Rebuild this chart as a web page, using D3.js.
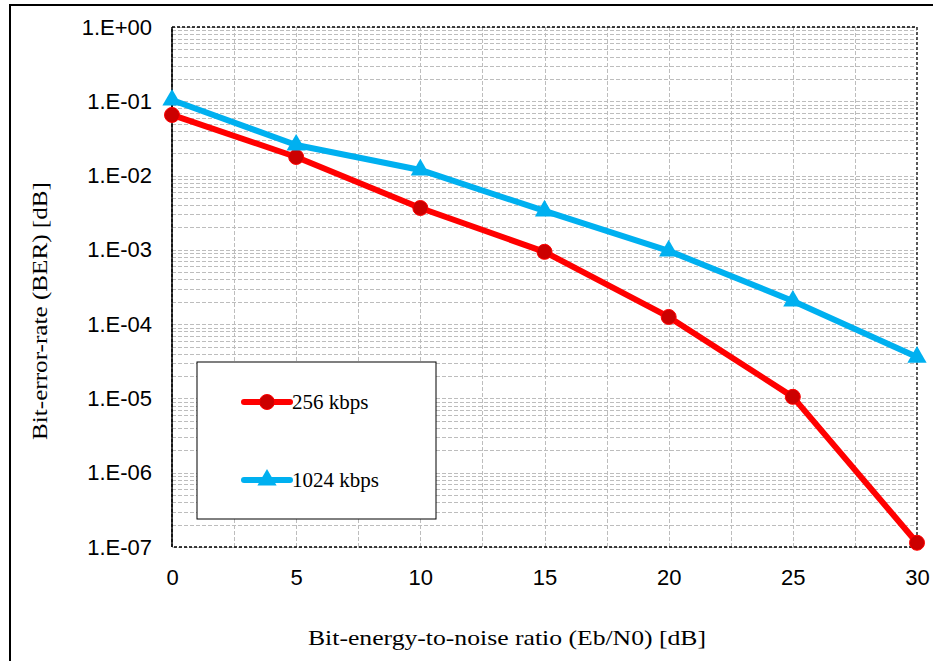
<!DOCTYPE html>
<html><head><meta charset="utf-8">
<script src="https://cdn.jsdelivr.net/npm/d3@7"></script>
<style>body{margin:0;background:#fff}svg{display:block}</style>
</head><body><svg id="c" width="933" height="661"></svg>
<script>
const xValues = [0, 5, 10, 15, 20, 25, 30];
const ber256 = [0.0655, 0.0178, 0.00366, 0.00094, 0.000125, 0.0000105, 0.000000114];
const ber1024 = [0.104, 0.0258, 0.0119, 0.00334, 0.00097, 0.000205, 0.000036];
const seriesNames = ["256 kbps", "1024 kbps"];
const xTicks = [0, 5, 10, 15, 20, 25, 30];
const yTicks = [1, 1e-1, 1e-2, 1e-3, 1e-4, 1e-5, 1e-6, 1e-7];
const yTickLabels = ["1.E+00","1.E-01","1.E-02","1.E-03","1.E-04","1.E-05","1.E-06","1.E-07"];

const svg = d3.select("#c");
const L = 172, R = 917, T = 27, B = 547;
const x = d3.scaleLinear().domain([0, 30]).range([L, R]);
const y = d3.scaleLog().domain([1e-7, 1]).range([B, T]);

// outer frame
svg.append("rect").attr("x", 10).attr("y", 5).attr("width", 940).attr("height", 680)
  .attr("fill", "none").attr("stroke", "#000").attr("stroke-width", 2);

// grid
const grid = svg.append("g").attr("stroke", "#bdbdbd").attr("stroke-width", 1).attr("stroke-dasharray", "4,2");
const minorY = [];
for (let e = -7; e < 0; e++) for (let m = 1; m <= 9; m++) minorY.push(m * Math.pow(10, e));
minorY.push(1);
grid.selectAll("line.h").data(minorY).join("line")
  .attr("x1", L).attr("x2", R).attr("y1", d => Math.round(y(d)) + 0.5).attr("y2", d => Math.round(y(d)) + 0.5);
const gridX = d3.range(2.5, 30, 2.5);
grid.selectAll("line.v").data(gridX).join("line")
  .attr("y1", T).attr("y2", B).attr("x1", d => Math.round(x(d)) + 0.5).attr("x2", d => Math.round(x(d)) + 0.5);

// plot border
svg.append("rect").attr("x", L).attr("y", T).attr("width", R - L).attr("height", B - T)
  .attr("fill", "none").attr("stroke", "#000").attr("stroke-width", 1.3).attr("stroke-dasharray", "3,2");
svg.append("line").attr("x1", L).attr("x2", L).attr("y1", T).attr("y2", B).attr("stroke", "#000").attr("stroke-width", 1.5);

// axes (labels only)
const yAxis = d3.axisLeft(y).tickValues(yTicks).tickFormat((d, i) => yTickLabels[i]).tickSize(0).tickPadding(20);
const ga = svg.append("g").attr("transform", `translate(${L},0)`).call(yAxis);
ga.select(".domain").remove();
ga.selectAll("text").attr("font-family", "Liberation Sans, Arial, sans-serif").attr("font-size", 22).attr("fill", "#000");

const xAxis = d3.axisBottom(x).tickValues(xTicks).tickSize(0).tickPadding(22);
const gx = svg.append("g").attr("transform", `translate(0,${B})`).call(xAxis);
gx.select(".domain").remove();
gx.selectAll("text").attr("font-family", "Liberation Sans, Arial, sans-serif").attr("font-size", 22).attr("fill", "#000");

// titles
svg.append("text").attr("x", 507).attr("y", 645).attr("text-anchor", "middle")
  .attr("font-family", "Liberation Serif, Times New Roman, serif").attr("font-size", 22)
  .attr("textLength", 398).attr("lengthAdjust", "spacingAndGlyphs")
  .text("Bit-energy-to-noise ratio (Eb/N0) [dB]");
svg.append("text").attr("transform", "translate(47,311) rotate(-90)").attr("text-anchor", "middle")
  .attr("font-family", "Liberation Serif, Times New Roman, serif").attr("font-size", 22)
  .attr("textLength", 258).attr("lengthAdjust", "spacingAndGlyphs")
  .text("Bit-error-rate (BER) [dB]");

// lines
const line = d3.line().x(d => x(d[0])).y(d => y(d[1]));
const d256 = xValues.map((v, i) => [v, ber256[i]]);
const d1024 = xValues.map((v, i) => [v, ber1024[i]]);
const tri = d3.symbol().type(d3.symbolTriangle).size(160);

svg.append("path").datum(d256).attr("d", line).attr("fill", "none").attr("stroke", "#ff0000").attr("stroke-width", 6).attr("stroke-linejoin", "round");
svg.append("path").datum(d1024).attr("d", line).attr("fill", "none").attr("stroke", "#00b0f0").attr("stroke-width", 6).attr("stroke-linejoin", "round");
svg.selectAll("circle.p").data(d256).join("circle").attr("cx", d => x(d[0])).attr("cy", d => y(d[1])).attr("r", 7.5)
  .attr("fill", "#cc0000").attr("stroke", "#ff0000").attr("stroke-width", 1);
svg.selectAll("path.t").data(d1024).join("path").attr("d", tri)
  .attr("transform", d => `translate(${x(d[0])},${y(d[1])})`).attr("fill", "#00b0f0");

// legend
const lg = svg.append("g");
lg.append("rect").attr("x", 197).attr("y", 362).attr("width", 239).attr("height", 157)
  .attr("fill", "#fff").attr("stroke", "#000").attr("stroke-width", 1);
const legY = [402, 480];
const cols = ["#ff0000", "#00b0f0"];
seriesNames.forEach((n, i) => {
  lg.append("line").attr("x1", 244).attr("x2", 290).attr("y1", legY[i]).attr("y2", legY[i])
    .attr("stroke", cols[i]).attr("stroke-width", 6).attr("stroke-linecap", "round");
  if (i === 0) lg.append("circle").attr("cx", 267).attr("cy", legY[i]).attr("r", 7.5).attr("fill", "#cc0000").attr("stroke", "#ff0000");
  else lg.append("path").attr("d", tri).attr("transform", `translate(267,${legY[i]})`).attr("fill", "#00b0f0");
  lg.append("text").attr("x", 292).attr("y", legY[i] + 7).attr("font-family", "Liberation Serif, Times New Roman, serif")
    .attr("font-size", 21).text(n);
});
</script></body></html>
